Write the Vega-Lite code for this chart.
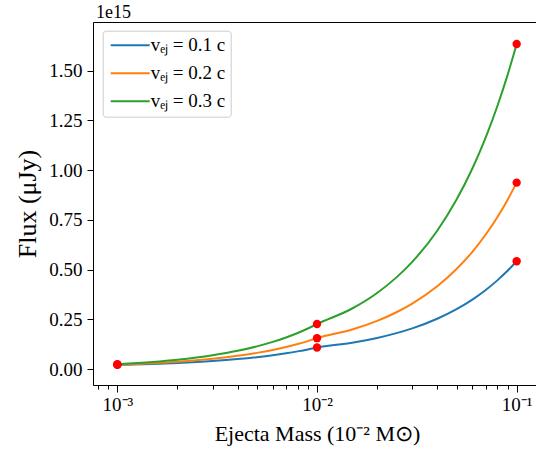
{
  "$schema": "https://vega.github.io/schema/vega-lite/v6.json",
  "width": 448,
  "height": 363,
  "autosize": {"type": "none"},
  "padding": {"left": 93, "top": 22, "right": 0, "bottom": 67},
  "background": "white",
  "config": {
    "view": {"stroke": "black", "strokeWidth": 1},
    "font": "Liberation Serif"
  },
  "title": {
    "text": "1e15",
    "anchor": "start",
    "frame": "group",
    "fontSize": 18,
    "fontWeight": "normal",
    "font": "Liberation Serif",
    "color": "black",
    "offset": 0,
    "dx": 3
  },
  "datasets": {
    "curves": [
      {"series": "vₑⱼ = 0.1 c", "mass": 0.001, "flux": 0.021},
      {"series": "vₑⱼ = 0.1 c", "mass": 0.0015, "flux": 0.0258},
      {"series": "vₑⱼ = 0.1 c", "mass": 0.002, "flux": 0.0307},
      {"series": "vₑⱼ = 0.1 c", "mass": 0.003, "flux": 0.0403},
      {"series": "vₑⱼ = 0.1 c", "mass": 0.004, "flux": 0.05},
      {"series": "vₑⱼ = 0.1 c", "mass": 0.005, "flux": 0.0597},
      {"series": "vₑⱼ = 0.1 c", "mass": 0.006, "flux": 0.0693},
      {"series": "vₑⱼ = 0.1 c", "mass": 0.007, "flux": 0.079},
      {"series": "vₑⱼ = 0.1 c", "mass": 0.008, "flux": 0.0887},
      {"series": "vₑⱼ = 0.1 c", "mass": 0.009, "flux": 0.0983},
      {"series": "vₑⱼ = 0.1 c", "mass": 0.01, "flux": 0.108},
      {"series": "vₑⱼ = 0.1 c", "mass": 0.015, "flux": 0.1321},
      {"series": "vₑⱼ = 0.1 c", "mass": 0.02, "flux": 0.1562},
      {"series": "vₑⱼ = 0.1 c", "mass": 0.025, "flux": 0.1803},
      {"series": "vₑⱼ = 0.1 c", "mass": 0.03, "flux": 0.2044},
      {"series": "vₑⱼ = 0.1 c", "mass": 0.04, "flux": 0.2527},
      {"series": "vₑⱼ = 0.1 c", "mass": 0.05, "flux": 0.3009},
      {"series": "vₑⱼ = 0.1 c", "mass": 0.06, "flux": 0.3491},
      {"series": "vₑⱼ = 0.1 c", "mass": 0.07, "flux": 0.3973},
      {"series": "vₑⱼ = 0.1 c", "mass": 0.08, "flux": 0.4456},
      {"series": "vₑⱼ = 0.1 c", "mass": 0.09, "flux": 0.4938},
      {"series": "vₑⱼ = 0.1 c", "mass": 0.1, "flux": 0.542},
      {"series": "vₑⱼ = 0.2 c", "mass": 0.001, "flux": 0.022},
      {"series": "vₑⱼ = 0.2 c", "mass": 0.0015, "flux": 0.0294},
      {"series": "vₑⱼ = 0.2 c", "mass": 0.002, "flux": 0.0368},
      {"series": "vₑⱼ = 0.2 c", "mass": 0.003, "flux": 0.0516},
      {"series": "vₑⱼ = 0.2 c", "mass": 0.004, "flux": 0.0663},
      {"series": "vₑⱼ = 0.2 c", "mass": 0.005, "flux": 0.0811},
      {"series": "vₑⱼ = 0.2 c", "mass": 0.006, "flux": 0.0959},
      {"series": "vₑⱼ = 0.2 c", "mass": 0.007, "flux": 0.1107},
      {"series": "vₑⱼ = 0.2 c", "mass": 0.008, "flux": 0.1254},
      {"series": "vₑⱼ = 0.2 c", "mass": 0.009, "flux": 0.1402},
      {"series": "vₑⱼ = 0.2 c", "mass": 0.01, "flux": 0.155},
      {"series": "vₑⱼ = 0.2 c", "mass": 0.015, "flux": 0.1984},
      {"series": "vₑⱼ = 0.2 c", "mass": 0.02, "flux": 0.2419},
      {"series": "vₑⱼ = 0.2 c", "mass": 0.025, "flux": 0.2853},
      {"series": "vₑⱼ = 0.2 c", "mass": 0.03, "flux": 0.3288},
      {"series": "vₑⱼ = 0.2 c", "mass": 0.04, "flux": 0.4157},
      {"series": "vₑⱼ = 0.2 c", "mass": 0.05, "flux": 0.5026},
      {"series": "vₑⱼ = 0.2 c", "mass": 0.06, "flux": 0.5894},
      {"series": "vₑⱼ = 0.2 c", "mass": 0.07, "flux": 0.6763},
      {"series": "vₑⱼ = 0.2 c", "mass": 0.08, "flux": 0.7632},
      {"series": "vₑⱼ = 0.2 c", "mass": 0.09, "flux": 0.8501},
      {"series": "vₑⱼ = 0.2 c", "mass": 0.1, "flux": 0.937},
      {"series": "vₑⱼ = 0.3 c", "mass": 0.001, "flux": 0.024},
      {"series": "vₑⱼ = 0.3 c", "mass": 0.0015, "flux": 0.0352},
      {"series": "vₑⱼ = 0.3 c", "mass": 0.002, "flux": 0.0464},
      {"series": "vₑⱼ = 0.3 c", "mass": 0.003, "flux": 0.0689},
      {"series": "vₑⱼ = 0.3 c", "mass": 0.004, "flux": 0.0913},
      {"series": "vₑⱼ = 0.3 c", "mass": 0.005, "flux": 0.1138},
      {"series": "vₑⱼ = 0.3 c", "mass": 0.006, "flux": 0.1362},
      {"series": "vₑⱼ = 0.3 c", "mass": 0.007, "flux": 0.1587},
      {"series": "vₑⱼ = 0.3 c", "mass": 0.008, "flux": 0.1811},
      {"series": "vₑⱼ = 0.3 c", "mass": 0.009, "flux": 0.2036},
      {"series": "vₑⱼ = 0.3 c", "mass": 0.01, "flux": 0.226},
      {"series": "vₑⱼ = 0.3 c", "mass": 0.015, "flux": 0.3042},
      {"series": "vₑⱼ = 0.3 c", "mass": 0.02, "flux": 0.3824},
      {"series": "vₑⱼ = 0.3 c", "mass": 0.025, "flux": 0.4607},
      {"series": "vₑⱼ = 0.3 c", "mass": 0.03, "flux": 0.5389},
      {"series": "vₑⱼ = 0.3 c", "mass": 0.04, "flux": 0.6953},
      {"series": "vₑⱼ = 0.3 c", "mass": 0.05, "flux": 0.8518},
      {"series": "vₑⱼ = 0.3 c", "mass": 0.06, "flux": 1.0082},
      {"series": "vₑⱼ = 0.3 c", "mass": 0.07, "flux": 1.1647},
      {"series": "vₑⱼ = 0.3 c", "mass": 0.08, "flux": 1.3211},
      {"series": "vₑⱼ = 0.3 c", "mass": 0.09, "flux": 1.4776},
      {"series": "vₑⱼ = 0.3 c", "mass": 0.1, "flux": 1.634}
    ],
    "dots": [
      {"mass": 0.001, "flux": 0.021},
      {"mass": 0.001, "flux": 0.022},
      {"mass": 0.001, "flux": 0.024},
      {"mass": 0.01, "flux": 0.108},
      {"mass": 0.01, "flux": 0.155},
      {"mass": 0.01, "flux": 0.226},
      {"mass": 0.1, "flux": 0.542},
      {"mass": 0.1, "flux": 0.937},
      {"mass": 0.1, "flux": 1.634}
    ]
  },
  "layer": [
    {
      "data": {"name": "curves"},
      "mark": {"type": "line", "strokeWidth": 2, "interpolate": "monotone"},
      "encoding": {
        "x": {
          "field": "mass",
          "type": "quantitative",
          "scale": {"type": "log", "domain": [0.000755, 0.1324], "nice": false},
          "axis": {
            "values": [0.0008, 0.0009, 0.001, 0.002, 0.003, 0.004, 0.005, 0.006, 0.007, 0.008, 0.009, 0.01, 0.02, 0.03, 0.04, 0.05, 0.06, 0.07, 0.08, 0.09, 0.1],
            "labelExpr": "datum.value === 0.001 ? '10⁻³' : datum.value === 0.01 ? '10⁻²' : datum.value === 0.1 ? '10⁻¹' : ''",
            "tickSize": {"condition": {"test": "datum.value === 0.001 || datum.value === 0.01 || datum.value === 0.1", "value": 7}, "value": 4},
            "tickColor": "black",
            "tickWidth": 1,
            "domain": false,
            "grid": false,
            "labelOverlap": false,
            "labelFlush": false,
            "labelFont": "Liberation Serif",
            "labelFontSize": 19,
            "labelColor": "black",
            "labelPadding": 3,
            "title": "Ejecta Mass (10⁻² M⊙)",
            "titleFont": "Liberation Serif",
            "titleFontSize": 22,
            "titleFontWeight": "normal",
            "titleColor": "black",
            "titlePadding": 9
          }
        },
        "y": {
          "field": "flux",
          "type": "quantitative",
          "scale": {"domain": [-0.0804, 1.7446], "nice": false, "zero": false},
          "axis": {
            "values": [0, 0.25, 0.5, 0.75, 1.0, 1.25, 1.5],
            "format": ".2f",
            "tickSize": 6,
            "tickColor": "black",
            "tickWidth": 1,
            "domain": false,
            "grid": false,
            "labelFont": "Liberation Serif",
            "labelFontSize": 19,
            "labelColor": "black",
            "labelPadding": 5,
            "title": "Flux (μJy)",
            "titleFont": "Liberation Serif",
            "titleFontSize": 26,
            "titleFontWeight": "normal",
            "titleColor": "black",
            "titlePadding": 8
          }
        },
        "color": {
          "field": "series",
          "type": "nominal",
          "scale": {"domain": ["vₑⱼ = 0.1 c", "vₑⱼ = 0.2 c", "vₑⱼ = 0.3 c"], "range": ["#1f77b4", "#ff7f0e", "#2ca02c"]},
          "legend": {
            "orient": "none",
            "legendX": 9.7,
            "legendY": 8.7,
            "title": null,
            "fillColor": "white",
            "strokeColor": "#cccccc",
            "cornerRadius": 3,
            "padding": 5,
            "rowPadding": 8,
            "symbolType": "M-1,0H5",
            "symbolSize": 169,
            "symbolStrokeWidth": 2,
            "labelOffset": 24,
            "labelFont": "Liberation Serif",
            "labelFontSize": 19,
            "labelColor": "black"
          }
        }
      }
    },
    {
      "data": {"name": "dots"},
      "mark": {"type": "point", "filled": true, "color": "#ff0000", "size": 70, "opacity": 1},
      "encoding": {
        "x": {"field": "mass", "type": "quantitative"},
        "y": {"field": "flux", "type": "quantitative"}
      }
    }
  ]
}
